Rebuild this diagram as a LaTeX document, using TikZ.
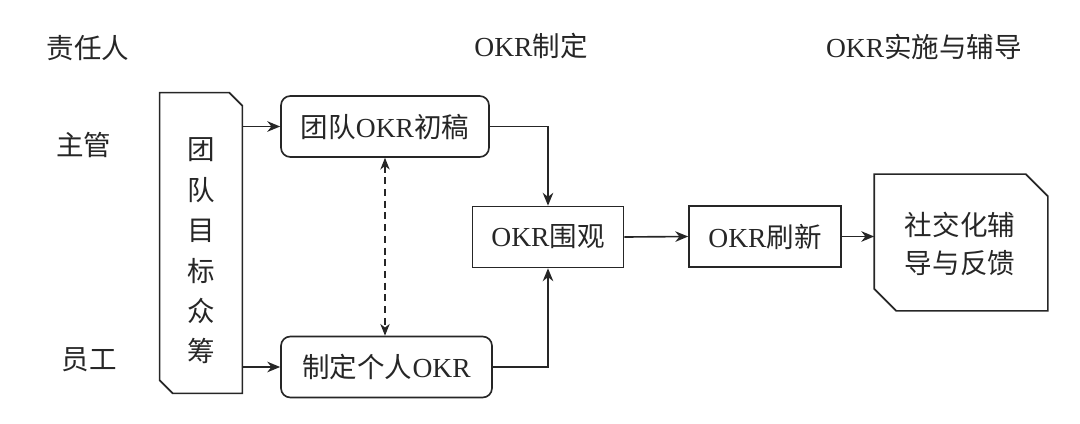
\documentclass[tikz,border=0pt]{standalone}
\usepackage{fontspec}
\setmainfont{Liberation Serif}
\newfontfamily\cjk{Noto Sans CJK SC}
\usetikzlibrary{arrows.meta}
\newcommand{\okrtxt}{{\rmfamily OKR}}

\begin{document}
\begin{tikzpicture}[x=0.03cm, y=-0.03cm, line width=1.4pt, color=black!85,
			every node/.style={font=\cjk\fontsize{23.5}{27}\selectfont},
			box/.style={draw, rectangle, inner sep=0pt, minimum height=1.83cm},
			rbox/.style={box, rounded corners=8pt},
			arr/.style={-{Stealth[length=11pt, width=9pt, inset=3.5pt]}},
			twoarr/.style={{Stealth[length=10pt, width=8pt, inset=3pt]}-{Stealth[length=10pt, width=8pt, inset=3pt]}, dashed, dash pattern=on 6pt off 4pt, line width=1.1pt}]
			\useasboundingbox (0, 0) rectangle (1080, 424);
			% headings and rows
			\node (who) at (88, 48) {责任人};
			\node (plan) at (531, 46) {\okrtxt 制定};
			\node (act) at (924, 47) {\okrtxt 实施与辅导};
			\node (boss) at (84, 145) {主管};
			\node (staff) at (89, 360) {员工};
			% crowd box
			\node (crowd) at (201, 243) [minimum width=2.43cm, minimum height=8.97cm] {};
			\node (crowdtxt) at (201, 251) [align=center, font=\cjk\fontsize{23.5}{34.5}\selectfont] {团\\队\\目\\标\\众\\筹};
			\draw (crowd.north west) -- ([xshift=-0.39cm]crowd.north east) -- ([yshift=-0.39cm]crowd.north east) -- (crowd.south east) -- ([xshift=0.39cm]crowd.south west) -- ([yshift=0.39cm]crowd.south west) -- cycle;
			% flow boxes
			\node[rbox, minimum width=6.24cm] (draft) at (385, 126.5) {团队\okrtxt 初稿};
			\node[rbox, minimum width=6.33cm] (mine) at (386.5, 367) {制定个人\okrtxt};
			\node[box, minimum width=4.53cm] (watch) at (548, 237) {\okrtxt 围观};
			\node[box, minimum width=4.56cm] (renew) at (765, 236.5) {\okrtxt 刷新};
			\node (social) at (961, 242.5) [minimum width=5.16cm, minimum height=4.05cm] {};
			\node (socialtxt) at (960, 244) [align=center, font=\cjk\fontsize{23.5}{32.4}\selectfont] {社交化辅\\导与反馈};
			\draw (social.north west) -- ([xshift=-0.66cm]social.north east) -- ([yshift=-0.66cm]social.north east) -- (social.south east) -- ([xshift=0.66cm]social.south west) -- ([yshift=0.66cm]social.south west) -- cycle;
			% arrows
			\foreach \b in {draft, mine}
			\draw[arr] (crowd.east |- \b.west) -- (\b.west);
			\draw[arr] (draft.east) -| (watch.north);
			\draw[arr] (mine.east) -| (watch.south);
			\draw[arr] (watch.east) -- (renew.west);
			\draw[arr] (renew.east) -- (renew.east -| social.west);
			\draw[twoarr] (draft.south) -- (draft.south |- mine.north);
			\end{tikzpicture}
\end{document}
